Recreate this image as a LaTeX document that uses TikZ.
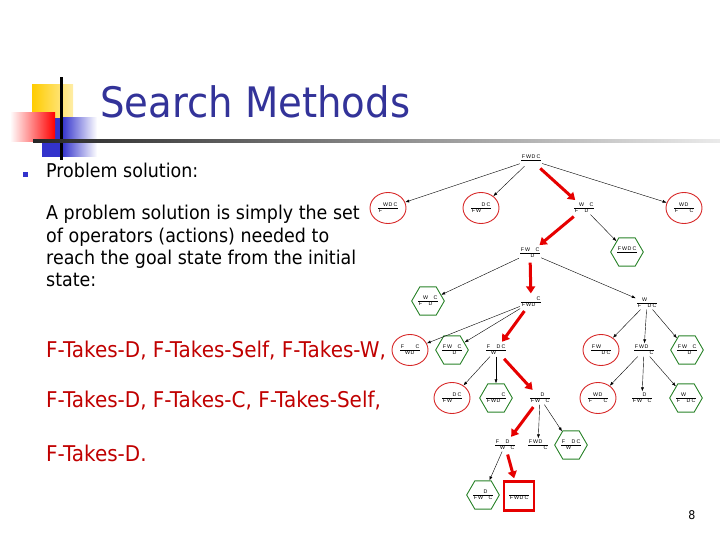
\documentclass[tikz,border=0pt]{standalone}
\usepackage{fontspec}
\setmainfont{DejaVu Sans}[FakeStretch=0.92]
\newfontfamily\treefont{Liberation Sans}
\usetikzlibrary{arrows.meta,shapes.geometric,positioning}

\definecolor{titleblue}{RGB}{51,51,153}
\definecolor{solred}{RGB}{192,0,0}
\definecolor{arrowred}{RGB}{230,0,0}
\definecolor{deadred}{RGB}{215,40,40}
\definecolor{safegreen}{RGB}{40,130,40}
\definecolor{decoyellow}{RGB}{255,204,0}
\definecolor{decoblue}{RGB}{51,51,204}
\definecolor{decored}{RGB}{255,0,0}

\setlength{\arrayrulewidth}{0.8pt}
% one bank: four fixed slots for F, W, D, C
\newcommand{\fw}[4]{\makebox[5pt]{#1}\makebox[5pt]{#2}\makebox[5pt]{#3}\makebox[5pt]{#4}}
% a state: left bank over the line, right bank under it
\newcommand{\st}[2]{\renewcommand{\arraystretch}{0.75}\begin{tabular}{@{}c@{}}#1\\\hline #2\end{tabular}}

\tikzset{
  plain/.style={inner sep=1pt,font=\treefont\fontsize{5.3}{6}\selectfont},
  dead/.style={plain,ellipse,draw=deadred,line width=0.9pt,minimum width=36pt,minimum height=31pt,inner sep=0pt},
  safe/.style={plain,regular polygon,regular polygon sides=6,draw=safegreen,line width=0.9pt,minimum size=30pt,inner sep=0pt},
  goalbox/.style={plain,rectangle,draw=arrowred,line width=2.5pt,minimum width=30pt,minimum height=29pt},
  move/.style={-{Latex[length=4pt,width=3pt]},line width=0.4pt},
  solmove/.style={-{Triangle[length=7pt,width=9pt]},draw=arrowred,line width=3pt,shorten <=3pt,shorten >=2pt},
  body/.style={anchor=base west,inner sep=0pt,font=\fontsize{19}{22}\selectfont},
  ops/.style={anchor=base west,inner sep=0pt,font=\fontsize{21.7}{24}\selectfont,text=solred},
}

\begin{document}
\begin{tikzpicture}[x=1pt,y=-1pt]
  \useasboundingbox (0,0) rectangle (720,540);

  % Title decoration
  \shade[left color=decoyellow,right color=decoyellow!35] (32,85) rectangle (73,118);
  \fill[decoblue] (42,118) rectangle (62,157);
  \shade[left color=decoblue,right color=white] (62,118) rectangle (97,157);
  \shade[left color=white,right color=decored] (10,113) rectangle (55,142);
  \fill[black] (60,77) rectangle (62.5,160);
  \shade[left color=black!85,middle color=black!55,right color=black!8] (33,140) rectangle (720,142.5);

  % Title
  \node[anchor=base west,inner sep=0pt,font=\fontsize{42}{50}\selectfont,text=titleblue] (title) at (100,118) {Search Methods};

  % Text
  \node[fill=decoblue,minimum size=5pt,inner sep=0pt] (bullet) at (25.5,175) {};
  \node[body] (problem) at (46,178) {Problem solution:};
  \node[body] (line1) at (46,220) {A problem solution is simply the set};
  \node[body] (line2) at (46,242) {of operators (actions) needed to};
  \node[body] (line3) at (46,264) {reach the goal state from the initial};
  \node[body] (line4) at (46,286) {state:};

  % Solution
  \node[ops] (ops1) at (46,357) {F-Takes-D, F-Takes-Self, F-Takes-W,};
  \node[ops] (ops2) at (46,407) {F-Takes-D, F-Takes-C, F-Takes-Self,};
  \node[ops] (ops3) at (46,461) {F-Takes-D.};

  % Search tree
  \node[plain] (start) at (531,160) {\st{\fw{F}{W}{D}{C}}{\fw{}{}{}{}}};

  \node[dead] (wdcF) at (388,208) {\st{\fw{}{W}{D}{C}}{\fw{F}{}{}{}}};
  \node[dead] (dcFW) at (481,208) {\st{\fw{}{}{D}{C}}{\fw{F}{W}{}{}}};
  \node[plain] (wcFD) at (584,208) {\st{\fw{}{W}{}{C}}{\fw{F}{}{D}{}}};
  \node[dead] (wdFC) at (684,208) {\st{\fw{}{W}{D}{}}{\fw{F}{}{}{C}}};

  \node[plain] (fwcD) at (530,253) {\st{\fw{F}{W}{}{C}}{\fw{}{}{D}{}}};
  \node[safe] (fwdcX) at (627,252) {\st{\fw{F}{W}{D}{C}}{\fw{}{}{}{}}};

  \node[safe] (wcFDX) at (428,301) {\st{\fw{}{W}{}{C}}{\fw{F}{}{D}{}}};
  \node[plain] (cFWD) at (531,302) {\st{\fw{}{}{}{C}}{\fw{F}{W}{D}{}}};
  \node[plain] (wFDC) at (647,303) {\st{\fw{}{W}{}{}}{\fw{F}{}{D}{C}}};

  \node[dead] (fcWD) at (410,350) {\st{\fw{F}{}{}{C}}{\fw{}{W}{D}{}}};
  \node[safe] (fwcDX) at (452,350) {\st{\fw{F}{W}{}{C}}{\fw{}{}{D}{}}};
  \node[plain] (fdcW) at (496,350) {\st{\fw{F}{}{D}{C}}{\fw{}{W}{}{}}};
  \node[dead] (fwDC) at (601,350) {\st{\fw{F}{W}{}{}}{\fw{}{}{D}{C}}};
  \node[plain] (fwdC) at (644,350) {\st{\fw{F}{W}{D}{}}{\fw{}{}{}{C}}};
  \node[safe] (fwcDY) at (687,350) {\st{\fw{F}{W}{}{C}}{\fw{}{}{D}{}}};

  \node[dead] (dcFWb) at (452,398) {\st{\fw{}{}{D}{C}}{\fw{F}{W}{}{}}};
  \node[safe] (cFWDX) at (496,398) {\st{\fw{}{}{}{C}}{\fw{F}{W}{D}{}}};
  \node[plain] (dFWC) at (540,398) {\st{\fw{}{}{D}{}}{\fw{F}{W}{}{C}}};
  \node[dead] (wdFCb) at (598,398) {\st{\fw{}{W}{D}{}}{\fw{F}{}{}{C}}};
  \node[plain] (dFWCb) at (642,398) {\st{\fw{}{}{D}{}}{\fw{F}{W}{}{C}}};
  \node[safe] (wFDCX) at (686,398) {\st{\fw{}{W}{}{}}{\fw{F}{}{D}{C}}};

  \node[plain] (fdWC) at (505,445) {\st{\fw{F}{}{D}{}}{\fw{}{W}{}{C}}};
  \node[plain] (fwdCb) at (538,445) {\st{\fw{F}{W}{D}{}}{\fw{}{}{}{C}}};
  \node[safe] (fdcWX) at (571,445) {\st{\fw{F}{}{D}{C}}{\fw{}{W}{}{}}};

  \node[safe] (dFWCX) at (483,495) {\st{\fw{}{}{D}{}}{\fw{F}{W}{}{C}}};
  \node[goalbox] (goal) at (519,496) {\st{\fw{}{}{}{}}{\fw{F}{W}{D}{C}}};

  % Moves
  \draw[move] (start) -- (wdcF);
  \draw[move] (start) -- (dcFW);
  \draw[solmove] (start) -- (wcFD);
  \draw[move] (start) -- (wdFC);

  \draw[solmove] (wcFD) -- (fwcD);
  \draw[move] (wcFD) -- (fwdcX);

  \draw[move] (fwcD) -- (wcFDX);
  \draw[solmove] (fwcD) -- (cFWD);
  \draw[move] (fwcD) -- (wFDC);

  \draw[move] (cFWD) -- (fcWD);
  \draw[move] (cFWD) -- (fwcDX);
  \draw[solmove] (cFWD) -- (fdcW);
  \draw[move] (wFDC) -- (fwDC);
  \draw[move] (wFDC) -- (fwdC);
  \draw[move] (wFDC) -- (fwcDY);

  \draw[move] (fdcW) -- (dcFWb);
  \draw[move] (fdcW) -- (cFWDX);
  \draw[solmove] (fdcW) -- (dFWC);
  \draw[move] (fwdC) -- (wdFCb);
  \draw[move] (fwdC) -- (dFWCb);
  \draw[move] (fwdC) -- (wFDCX);

  \draw[solmove] (dFWC) -- (fdWC);
  \draw[move] (dFWC) -- (fwdCb);
  \draw[move] (dFWC) -- (fdcWX);

  \draw[move] (fdWC) -- (dFWCX);
  \draw[solmove] (fdWC) -- (goal);

  % Page number
  \node[inner sep=0pt,font=\fontsize{12}{14}\selectfont] (page) at (692,515) {8};
\end{tikzpicture}
\end{document}
